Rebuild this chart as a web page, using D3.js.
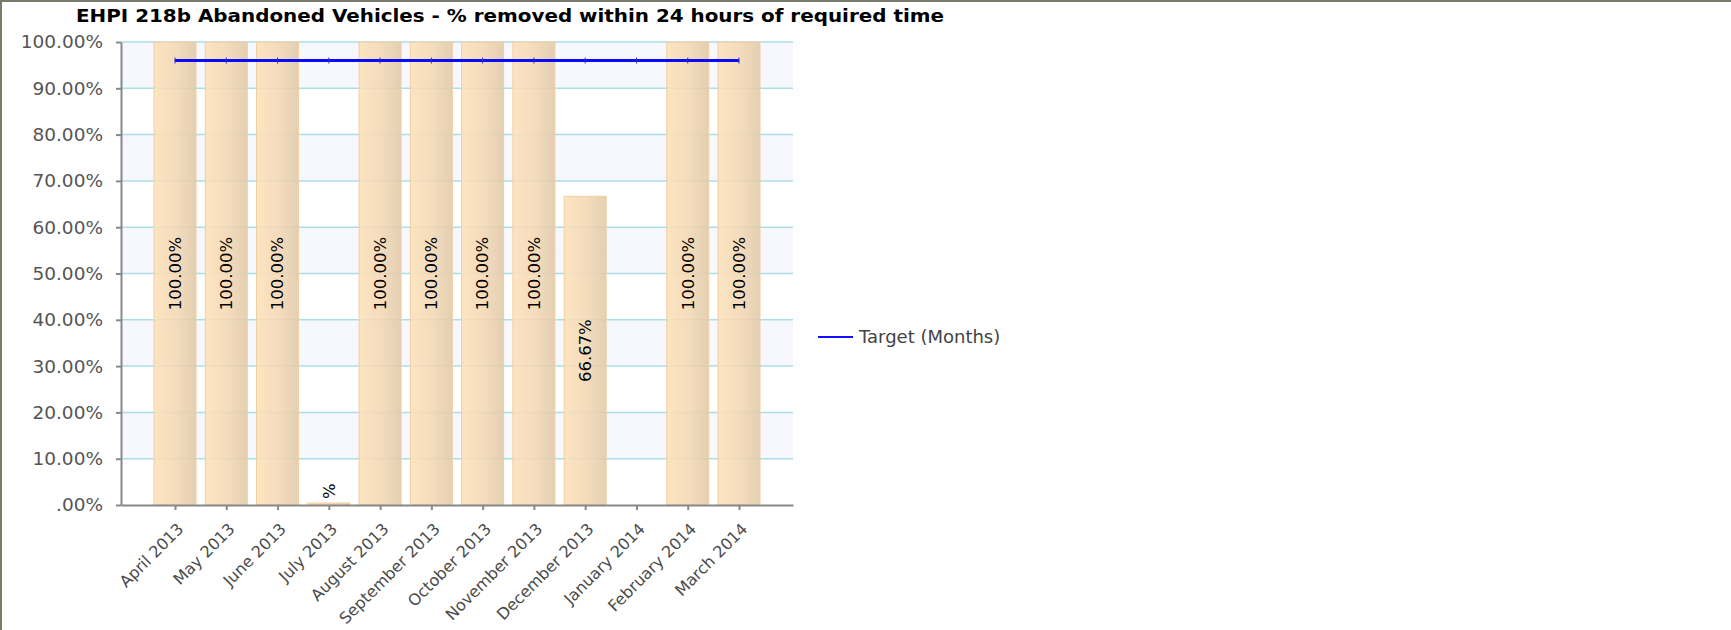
<!DOCTYPE html>
<html lang="en">
<head>
<meta charset="utf-8">
<title>EHPI 218b Abandoned Vehicles</title>
<script src="https://cdn.jsdelivr.net/npm/d3@7"></script>
<style>
body { margin:0; background:#fff; }
svg text { font-family: "DejaVu Sans", Verdana, sans-serif; }
</style>
</head>
<body>
<script>
var months = ["April 2013", "May 2013", "June 2013", "July 2013", "August 2013", "September 2013",
              "October 2013", "November 2013", "December 2013", "January 2014", "February 2014", "March 2014"];
var removed = [100, 100, 100, 0, 100, 100, 100, 100, 66.67, null, 100, 100];
var barLabels = ["100.00%", "100.00%", "100.00%", "%", "100.00%", "100.00%",
                 "100.00%", "100.00%", "66.67%", "", "100.00%", "100.00%"];
var target = [96, 96, 96, 96, 96, 96, 96, 96, 96, 96, 96, 96];
var yTicks = [0, 10, 20, 30, 40, 50, 60, 70, 80, 90, 100];
var yTickLabels = [".00%", "10.00%", "20.00%", "30.00%", "40.00%", "50.00%",
                   "60.00%", "70.00%", "80.00%", "90.00%", "100.00%"];

var W = 1731, H = 630;
// plot area (note: "top" is reserved on window, so use p* names)
var pLeft = 121, pRight = 793, pTop = 42, pBottom = 505;
var barW = 42;

var svg = d3.select("body").append("svg").attr("width", W).attr("height", H);

// frame
svg.append("rect").attr("x", 0).attr("y", 0).attr("width", W).attr("height", 2).attr("fill", "#7a7a6c");
svg.append("rect").attr("x", 0).attr("y", 0).attr("width", 2).attr("height", H).attr("fill", "#7a7a6c");

var x = d3.scalePoint().domain(months).range([pLeft, pRight]).padding(1.053);
var y = d3.scaleLinear().domain([0, 100]).range([pBottom, pTop]);

// alternating bands
svg.append("g").selectAll("rect").data(yTicks.slice(1)).enter().append("rect")
  .attr("x", pLeft).attr("width", pRight - pLeft)
  .attr("y", function(d) { return y(d); })
  .attr("height", function(d) { return y(d - 10) - y(d); })
  .attr("fill", function(d, i) { return i % 2 == 0 ? "#ffffff" : "#f7f8fe"; });

// grid lines
svg.append("g").selectAll("line").data(yTicks.slice(1)).enter().append("line")
  .attr("x1", pLeft).attr("x2", pRight)
  .attr("y1", function(d) { return y(d); }).attr("y2", function(d) { return y(d); })
  .attr("stroke", "#abdfe8").attr("stroke-width", 1.5);

var grad = svg.append("defs").append("linearGradient").attr("id", "barGrad")
  .attr("x1", "0%").attr("x2", "100%").attr("y1", "0%").attr("y2", "0%");
grad.append("stop").attr("offset", "0%").attr("stop-color", "#fde1b9");
grad.append("stop").attr("offset", "55%").attr("stop-color", "#f2d7b3");
grad.append("stop").attr("offset", "100%").attr("stop-color", "#e1c9a8");

// bars
var bars = months.map(function(m, i) { return {m: m, v: removed[i], label: barLabels[i]}; })
  .filter(function(d) { return d.v !== null; });

svg.append("g").selectAll("rect").data(bars).enter().append("rect")
  .attr("x", function(d) { return x(d.m) - barW / 2; })
  .attr("width", barW)
  .attr("y", function(d) { return Math.min(y(d.v), pBottom - 2); })
  .attr("height", function(d) { return Math.max(pBottom - y(d.v), 2); })
  .attr("fill", "url(#barGrad)").attr("fill-opacity", 0.88)
  .attr("stroke", "#efcfa2").attr("stroke-width", 1);

// bar labels
svg.append("g").selectAll("text").data(bars).enter().append("text")
  .attr("transform", function(d) {
    var h = pBottom - y(d.v);
    if (h > 90) return "translate(" + x(d.m) + "," + (y(d.v) + h / 2) + ") rotate(-90)";
    return "translate(" + x(d.m) + "," + (Math.min(y(d.v), pBottom - 2) - 4) + ") rotate(-90)";
  })
  .attr("text-anchor", function(d) { return (pBottom - y(d.v)) > 90 ? "middle" : "start"; })
  .attr("dy", "0.35em")
  .attr("font-size", 16.5).attr("fill", "#000")
  .text(function(d) { return d.label; });

// target line
var line = d3.line().x(function(d, i) { return x(months[i]); }).y(function(d) { return y(d); });
svg.append("path").datum(target).attr("d", line)
  .attr("fill", "none").attr("stroke", "#0a0aff").attr("stroke-width", 2.8);
svg.append("g").selectAll("line").data(target).enter().append("line")
  .attr("x1", function(d, i) { return x(months[i]); }).attr("x2", function(d, i) { return x(months[i]); })
  .attr("y1", function(d) { return y(d) - 3; }).attr("y2", function(d) { return y(d) + 3; })
  .attr("stroke", "#3030c0").attr("stroke-width", 1);

// axes
var yAxis = svg.append("g").attr("transform", "translate(" + pLeft + ",0)")
  .call(d3.axisLeft(y).tickValues(yTicks).tickFormat(function(d, i) { return yTickLabels[i]; })
    .tickSize(5).tickSizeOuter(0).tickPadding(13));
yAxis.selectAll("text").attr("font-size", 18.5).attr("fill", "#555").style("font-family", "DejaVu Sans");

var xAxis = svg.append("g").attr("transform", "translate(0," + pBottom + ")")
  .call(d3.axisBottom(x).tickSize(5).tickSizeOuter(0));
xAxis.selectAll("text")
  .attr("text-anchor", "end")
  .attr("x", 0).attr("y", 0).attr("dy", 0)
  .attr("transform", "translate(9,25) rotate(-45)")
  .attr("font-size", 16).attr("fill", "#4a4a4a").style("font-family", "DejaVu Sans");

svg.selectAll(".domain, .tick line").attr("stroke", "#888").attr("stroke-width", 2);

// title
svg.append("text").attr("x", 76).attr("y", 22)
  .attr("font-size", 17).attr("font-weight", "bold").attr("fill", "#000")
  .attr("textLength", 868).attr("lengthAdjust", "spacingAndGlyphs")
  .text("EHPI 218b Abandoned Vehicles - % removed within 24 hours of required time");

// legend
svg.append("line").attr("x1", 818).attr("x2", 853).attr("y1", 337).attr("y2", 337)
  .attr("stroke", "#1010ff").attr("stroke-width", 2);
svg.append("text").attr("x", 859).attr("y", 337).attr("dy", "0.35em")
  .attr("font-size", 18).attr("fill", "#444")
  .text("Target (Months)");
</script>
</body>
</html>
